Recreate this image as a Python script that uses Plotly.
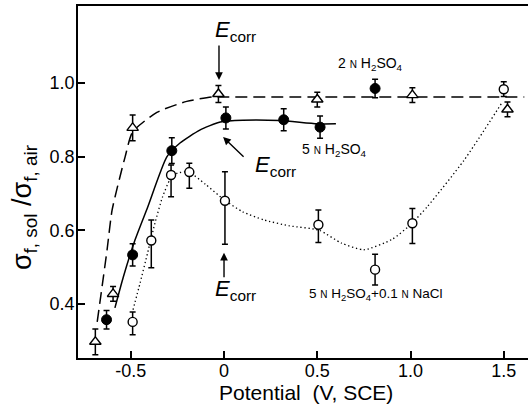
import plotly.graph_objects as go

# ---- data ----
# 2 N H2SO4 (open triangles)
tri_x = [-0.69, -0.595, -0.49, -0.03, 0.50, 1.01, 1.52]
tri_y = [0.297, 0.427, 0.878, 0.970, 0.955, 0.967, 0.928]
tri_e = [0.035, 0.020, 0.035, 0.023, 0.020, 0.020, 0.020]

# 5 N H2SO4 (filled circles)
fc_x = [-0.63, -0.49, -0.28, 0.01, 0.32, 0.515, 0.81]
fc_y = [0.357, 0.533, 0.816, 0.905, 0.900, 0.880, 0.985]
fc_e = [0.025, 0.030, 0.035, 0.030, 0.030, 0.030, 0.025]

# 5 N H2SO4 + 0.1 N NaCl (open circles)
oc_x = [-0.49, -0.39, -0.284, -0.186, 0.005, 0.506, 0.81, 1.01, 1.50]
oc_y = [0.351, 0.572, 0.750, 0.758, 0.680, 0.615, 0.493, 0.619, 0.983]
oc_ep = [0.027, 0.056, 0.027, 0.024, 0.079, 0.040, 0.042, 0.040, 0.020]
oc_em = [0.035, 0.074, 0.059, 0.044, 0.118, 0.048, 0.042, 0.055, 0.020]

# guide curves
dash_x = [-0.68, -0.627, -0.60, -0.53, -0.49, -0.36, -0.20, -0.06, 0.0, 1.61]
dash_y = [0.351, 0.547, 0.655, 0.800, 0.867, 0.920, 0.950, 0.962, 0.962, 0.962]

solid_x = [-0.585, -0.54, -0.477, -0.41, -0.306, -0.236, -0.13, -0.02, 0.1, 0.3, 0.5, 0.6]
solid_y = [0.389, 0.473, 0.574, 0.662, 0.800, 0.837, 0.872, 0.894, 0.899, 0.898, 0.889, 0.889]

dot_x = [-0.488, -0.45, -0.41, -0.37, -0.33, -0.29, -0.25, -0.19, -0.1, 0.0, 0.1, 0.214,
         0.35, 0.51, 0.63, 0.75, 0.9, 1.0, 1.09, 1.287, 1.49]
dot_y = [0.384, 0.457, 0.538, 0.620, 0.690, 0.737, 0.755, 0.758, 0.725, 0.683, 0.650, 0.628,
         0.612, 0.600, 0.565, 0.547, 0.575, 0.615, 0.664, 0.790, 0.946]

xtick_vals = [-0.5, 0, 0.5, 1.0, 1.5]
xtick_text = ["-0.5", "0", "0.5", "1.0", "1.5"]
ytick_vals = [0.4, 0.6, 0.8, 1.0]
ytick_text = ["0.4", "0.6", "0.8", "1.0"]

FONT = "Liberation Sans"
fig = go.Figure()

fig.add_trace(go.Scatter(x=dash_x, y=dash_y, mode="lines", line=dict(color="black", width=1.5, dash="12px,6px", shape="spline", smoothing=0.6), hoverinfo="skip"))
fig.add_trace(go.Scatter(x=solid_x, y=solid_y, mode="lines", line=dict(color="black", width=1.5, shape="spline", smoothing=0.6), hoverinfo="skip"))
fig.add_trace(go.Scatter(x=dot_x, y=dot_y, mode="lines", line=dict(color="black", width=1.3, dash="1.3px,2.7px", shape="spline", smoothing=0.6), hoverinfo="skip"))

errstyle = dict(type="data", color="black", thickness=1.5, width=3)

fig.add_trace(go.Scatter(x=tri_x, y=tri_y, mode="markers",
                         error_y=dict(array=tri_e, **errstyle),
                         marker=dict(symbol="triangle-up", size=10, color="white", line=dict(color="black", width=1.4))))
fig.add_trace(go.Scatter(x=fc_x, y=fc_y, mode="markers",
                         error_y=dict(array=fc_e, **errstyle),
                         marker=dict(symbol="circle", size=10, color="black", line=dict(color="black", width=1))))
fig.add_trace(go.Scatter(x=oc_x, y=oc_y, mode="markers",
                         error_y=dict(array=oc_ep, arrayminus=oc_em, symmetric=False, **errstyle),
                         marker=dict(symbol="circle", size=9, color="white", line=dict(color="black", width=1.4))))

ann = []
ecorr = "<i>E</i><sub>corr</sub>"
for (x, y) in [(0.064, 1.141), (0.275, 0.775), (0.064, 0.438)]:
    ann.append(dict(x=x, y=y, xref="x", yref="y", text=ecorr, showarrow=False,
                    font=dict(family=FONT, size=22, color="black")))
for (x, y, ax, ay) in [(-0.027, 1.008, 0, -36), (-0.005, 0.853, 22, 21), (0.0, 0.539, 0, 26)]:
    ann.append(dict(x=x, y=y, xref="x", yref="y", text="", showarrow=True, ax=ax, ay=ay,
                    arrowhead=2, arrowsize=1.1, arrowwidth=1.4, arrowcolor="black"))

smallN = "<span style='font-size:10px'>N</span>"
ann.append(dict(x=0.783, y=1.052, xref="x", yref="y", showarrow=False,
                text="2 " + smallN + " H<sub>2</sub>SO<sub>4</sub>", font=dict(family=FONT, size=14, color="black")))
ann.append(dict(x=0.595, y=0.818, xref="x", yref="y", showarrow=False,
                text="5 " + smallN + " H<sub>2</sub>SO<sub>4</sub>", font=dict(family=FONT, size=14, color="black")))
ann.append(dict(x=0.81, y=0.425, xref="x", yref="y", showarrow=False,
                text="5 " + smallN + " H<sub>2</sub>SO<sub>4</sub>+0.1 " + smallN + " NaCl",
                font=dict(family=FONT, size=13.5, color="black")))

ann.append(dict(x=-0.12, y=0.426, xref="paper", yref="paper", showarrow=False, textangle=-90,
                xanchor="center", yanchor="middle",
                text="σ<sub>f, sol</sub> /σ<sub>f, air</sub>", font=dict(family=FONT, size=27, color="black")))
ann.append(dict(x=0.507, y=-0.0994, xref="paper", yref="paper", showarrow=False,
                xanchor="center", yanchor="middle",
                text="Potential  (V, SCE)", font=dict(family=FONT, size=21, color="black")))

fig.update_layout(
    width=528, height=411,
    margin=dict(l=78, r=0, t=6, b=53),
    paper_bgcolor="white", plot_bgcolor="white",
    showlegend=False,
    annotations=ann,
    xaxis=dict(range=[-0.783, 1.63], tickvals=xtick_vals, ticktext=xtick_text, ticks="inside",
               ticklen=7, tickwidth=1.5, tickcolor="black", showline=True, linecolor="black", linewidth=1.5,
               mirror=True, showgrid=False, zeroline=False, ticklabelstandoff=-4,
               tickfont=dict(family=FONT, size=18, color="black")),
    yaxis=dict(range=[0.253, 1.209], tickvals=ytick_vals, ticktext=ytick_text, ticks="inside",
               ticklen=7, tickwidth=1.5, tickcolor="black", showline=True, linecolor="black", linewidth=1.5,
               mirror=False, showgrid=False, zeroline=False, ticklabelstandoff=-2,
               tickfont=dict(family=FONT, size=18, color="black")),
)

fig.write_html("out.html")
